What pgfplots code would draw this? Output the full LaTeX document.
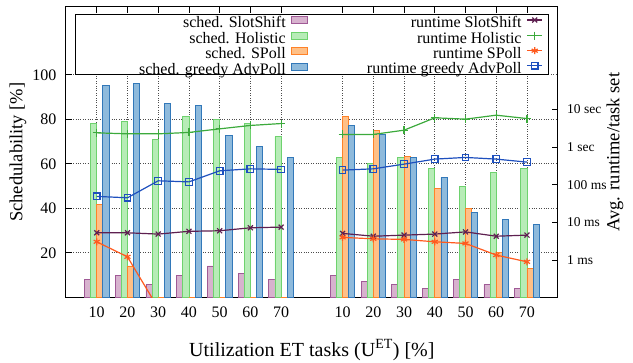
\documentclass[border=0pt]{standalone}
\usepackage{fontspec}
\setmainfont{Liberation Serif}
\usepackage{pgfplots}
\pgfplotsset{compat=1.18}
\definecolor{ssfill}{RGB}{215,178,206}
\definecolor{ssdraw}{RGB}{160,90,150}
\definecolor{hofill}{RGB}{183,236,183}
\definecolor{hodraw}{RGB}{110,210,110}
\definecolor{spfill}{RGB}{255,192,135}
\definecolor{spdraw}{RGB}{255,130,40}
\definecolor{apfill}{RGB}{142,186,220}
\definecolor{apdraw}{RGB}{50,120,185}
\definecolor{ssline}{RGB}{94,32,80}
\definecolor{holine}{RGB}{60,170,60}
\definecolor{spline}{RGB}{255,90,30}
\definecolor{apline}{RGB}{30,80,190}
\pgfplotsset{
  barbox/.style={legend image code/.code={\draw[##1,/tikz/.cd,yshift=4pt] (0pt,-3.5pt) rectangle (16pt,3.5pt);}},
  linebox/.style={legend image code/.code={\draw[mark repeat=2,mark phase=2,##1,/tikz/.cd,yshift=4pt] plot coordinates {(0pt,0pt) (7.5pt,0pt) (15pt,0pt)};}},
}
\begin{document}
\begin{tikzpicture}
\useasboundingbox (-66pt,-65.7pt) rectangle (567pt,297.3pt);
\begin{axis}[
  at={(0pt,0pt)}, anchor=south west,
  scale only axis, width=491.7pt, height=290.3pt,
  xmin=0, xmax=16, ymin=0, ymax=130.5,
  xtick={1,2,3,4,5,6,7,9,10,11,12,13,14,15},
  xticklabels={10,20,30,40,50,60,70,10,20,30,40,50,60,70},
  ytick={20,40,60,80,100}, yticklabels={20,40,60,80,100},
  ytick pos=left, xtick pos=both, tick align=inside,
  major tick length=6pt,
  grid=major, grid style={dotted, black!70, line width=0.7pt},
  axis line style={line width=1pt},
  tick style={black, line width=0.8pt},
  ticklabel style={font=\fontsize{16}{16}\selectfont},
  xticklabel style={yshift=-6pt},
  yticklabel style={xshift=-6pt},
  xlabel={Utilization ET tasks (U\textsuperscript{ET}) [\%]},
  ylabel={Schedulability [\%]},
  label style={font=\fontsize{18.5}{18.5}\selectfont},
  xlabel style={font=\fontsize{20}{20}\selectfont, at={(axis description cs:0.5,-0.1815)}, anchor=center},
  ylabel style={at={(axis description cs:-0.0976,0.5)}, anchor=center},
  legend cell align=right, legend plot pos=right,
  legend style={at={(axis description cs:0.4916,0.968)}, anchor=north east,
    draw=none, fill=none, inner sep=0pt, font=\fontsize{16}{16}\selectfont,
    nodes={inner xsep=5pt, inner ysep=0pt, text height=11pt, text depth=4.1pt}},
]
\draw[fill=white, line width=1pt] (rel axis cs:0.0197,0.7663) rectangle (rel axis cs:0.9809,0.9749);
\addplot[ybar, bar width=0.2, bar shift=-0.3, fill=ssfill, draw=ssdraw, line width=0.8pt, barbox]
  coordinates {(1,8.1) (2,10.0) (3,5.8) (4,10.0) (5,14.1) (6,10.9) (7,8.1)
               (9,10.0) (10,7.0) (11,5.8) (12,4.0) (13,8.1) (14,5.8) (15,4.0)};
\addlegendentry{sched. SlotShift}
\addplot[ybar, bar width=0.2, bar shift=-0.1, fill=hofill, draw=hodraw, line width=0.8pt, barbox]
  coordinates {(1,78.2) (2,79.2) (3,71.1) (4,81.2) (5,80.0) (6,78.2) (7,72.2)
               (9,62.9) (10,60.2) (11,62.9) (12,58.0) (13,50.0) (14,56.0) (15,58.0)};
\addlegendentry{sched. Holistic}
\addplot[ybar, bar width=0.2, bar shift=0.1, fill=spfill, draw=spdraw, line width=0.8pt, barbox]
  coordinates {(1,41.9) (2,14.1) (3,0) (4,0) (5,0) (6,0) (7,0)
               (9,81.2) (10,75.2) (11,63.2) (12,49.0) (13,40.0) (14,20.0) (15,13.0)};
\addlegendentry{sched. SPoll}
\addplot[ybar, bar width=0.2, bar shift=0.3, fill=apfill, draw=apdraw, line width=0.8pt, barbox]
  coordinates {(1,95.1) (2,96.2) (3,87.2) (4,86.3) (5,72.9) (6,68.0) (7,62.9)
               (9,77.1) (10,73.3) (11,62.9) (12,53.9) (13,38.0) (14,35.1) (15,32.9)};
\addlegendentry{sched. greedy AdvPoll}
\end{axis}
\begin{axis}[
  at={(0pt,0pt)}, anchor=south west,
  scale only axis, width=491.7pt, height=290.3pt,
  xmin=0, xmax=16, ymode=log, ymin=1.03e-4, ymax=5200,
  hide x axis, axis y line*=right,
  ytick={1e-3,1e-2,1e-1,1,10},
  yticklabels={1 ms,10 ms,100 ms,1 sec,10 sec},
  yminorticks=false, tick align=inside, major tick length=6pt,
  axis line style={line width=1pt},
  tick style={black, line width=0.8pt},
  yticklabel style={font=\fontsize{13.5}{13.5}\selectfont, xshift=6pt},
  ylabel={Avg. runtime/task set},
  ylabel style={font=\fontsize{18.5}{18.5}\selectfont, at={(axis description cs:1.1165,0.5)}, anchor=center},
  unbounded coords=jump,
  legend cell align=right, legend plot pos=right,
  legend style={at={(axis description cs:0.9701,0.968)}, anchor=north east,
    draw=none, fill=none, inner sep=0pt, font=\fontsize{16}{16}\selectfont,
    nodes={inner xsep=5pt, inner ysep=0pt, text height=11pt, text depth=4.1pt}},
]
\addplot[ssline, line width=1.2pt, mark=x, mark size=3.5pt, mark options={line width=1.2pt}, linebox]
  coordinates {(1,5.3e-3) (2,5.3e-3) (3,4.9e-3) (4,5.8e-3) (5,6.0e-3) (6,7.2e-3) (7,7.5e-3) (8,nan)
               (9,5.1e-3) (10,4.3e-3) (11,4.6e-3) (12,4.9e-3) (13,5.6e-3) (14,4.3e-3) (15,4.6e-3)};
\addlegendentry{runtime SlotShift}
\addplot[holine, line width=1.2pt, mark=+, mark size=4pt, mark options={line width=1.2pt}, linebox]
  coordinates {(1,2.38) (2,2.24) (3,2.24) (4,2.44) (5,3.04) (6,3.74) (7,4.2) (8,nan)
               (9,2.16) (10,2.16) (11,2.8) (12,5.96) (13,5.5) (14,7.0) (15,5.7)};
\addlegendentry{runtime Holistic}
\addplot[spline, line width=1.2pt, mark=asterisk, mark size=3.5pt, mark options={line width=1.2pt}, linebox]
  coordinates {(1,3.06e-3) (2,1.22e-3) (3,5.3e-5) (8,nan)
               (9,4.0e-3) (10,3.67e-3) (11,3.54e-3) (12,3.06e-3) (13,2.77e-3) (14,1.36e-3) (15,0.90e-3)};
\addlegendentry{runtime SPoll}
\addplot[apline, line width=1.2pt, mark=square, mark size=3.3pt, mark options={line width=1.2pt}, linebox]
  coordinates {(1,0.049) (2,0.045) (3,0.127) (4,0.119) (5,0.234) (6,0.264) (7,0.255) (8,nan)
               (9,0.244) (10,0.264) (11,0.352) (12,0.478) (13,0.530) (14,0.478) (15,0.398)};
\addlegendentry{runtime greedy AdvPoll}
\end{axis}
\end{tikzpicture}
\end{document}
